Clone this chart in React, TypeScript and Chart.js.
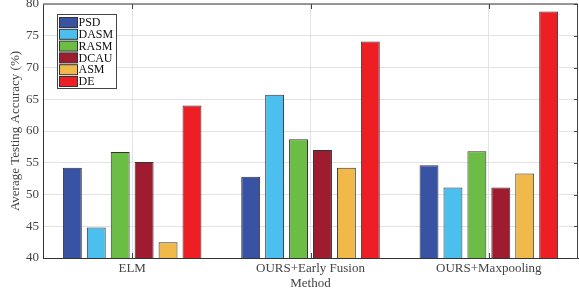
import React, { useEffect, useRef } from "react";
import { Chart, registerables } from "chart.js";

Chart.register(...registerables);

const categories = ["ELM", "OURS+Early Fusion", "OURS+Maxpooling"];
const seriesNames = ["PSD", "DASM", "RASM", "DCAU", "ASM", "DE"];
const psd = [54.2, 52.8, 54.6];
const dasm = [44.8, 65.7, 51.1];
const rasm = [56.7, 58.7, 56.8];
const dcau = [55.1, 57.0, 51.1];
const asm = [42.5, 54.2, 53.3];
const de = [64.0, 74.1, 78.8];
const seriesColors = ["#3953a4", "#4bc0ee", "#6bbd45", "#9f1c30", "#f0b94a", "#ed1f24"];
const yTicks = [40, 45, 50, 55, 60, 65, 70, 75, 80];

const FONT = "'Liberation Serif', 'Times New Roman', serif";

const boxPlugin = {
  id: "boxPlugin",
  afterDraw(chart: any) {
    const { ctx, chartArea } = chart;
    const { left, right, top, bottom } = chartArea;
    ctx.save();
    ctx.strokeStyle = "#777";
    ctx.lineWidth = 1.5;
    ctx.beginPath();
    ctx.moveTo(left, top);
    ctx.lineTo(right, top);
    ctx.stroke();
    ctx.lineWidth = 1;
    ctx.strokeStyle = "#444";
    ctx.beginPath();
    ctx.moveTo(right - 0.5, top);
    ctx.lineTo(right - 0.5, bottom);
    ctx.stroke();
    const ys = chart.scales.y;
    yTicks.forEach((v) => {
      const py = Math.round(ys.getPixelForValue(v)) + 0.5;
      ctx.beginPath();
      ctx.moveTo(right, py);
      ctx.lineTo(right - 4, py);
      ctx.stroke();
    });
    const xs = chart.scales.x;
    categories.forEach((_, i) => {
      const px = Math.round(xs.getPixelForValue(i)) + 0.5;
      ctx.beginPath();
      ctx.moveTo(px, top);
      ctx.lineTo(px, top + 5);
      ctx.stroke();
      ctx.beginPath();
      ctx.moveTo(px, bottom);
      ctx.lineTo(px, bottom - 5);
      ctx.stroke();
    });
    // legend
    const lx = 57.5, ly = 14.5, lw = 59, lh = 74;
    ctx.fillStyle = "#fff";
    ctx.fillRect(lx, ly, lw, lh);
    ctx.strokeStyle = "#444";
    ctx.lineWidth = 1;
    ctx.strokeRect(lx, ly, lw, lh);
    ctx.font = `12px ${FONT}`;
    ctx.textBaseline = "middle";
    ctx.textAlign = "left";
    seriesNames.forEach((name, i) => {
      const rowY = ly + 3 + i * 11.8;
      ctx.fillStyle = seriesColors[i];
      ctx.fillRect(lx + 2, rowY, 18, 10);
      ctx.strokeStyle = "#333";
      ctx.strokeRect(lx + 2, rowY, 18, 10);
      ctx.fillStyle = "#111";
      ctx.fillText(name, lx + 21, rowY + 5.5);
    });
    ctx.restore();
  },
};

export default function App() {
  const ref = useRef<HTMLCanvasElement | null>(null);
  useEffect(() => {
    document.body.style.margin = "0";
    const values = [psd, dasm, rasm, dcau, asm, de];
    const chart = new Chart(ref.current as HTMLCanvasElement, {
      type: "bar",
      data: {
        labels: categories,
        datasets: seriesNames.map((n, i) => ({
          label: n,
          data: values[i],
          backgroundColor: seriesColors[i],
          borderColor: "#333",
          borderWidth: 1,
          categoryPercentage: 0.805,
          barPercentage: 0.79,
        })),
      },
      options: {
        animation: false,
        responsive: false,
        maintainAspectRatio: false,
        layout: { padding: { top: 4, right: 1, left: 0, bottom: 0 } },
        plugins: { legend: { display: false }, tooltip: { enabled: false } },
        scales: {
          x: {
            afterFit: (s: any) => { s.height = 34; s.paddingLeft = 0; s.paddingRight = 0; },
            grid: { offset: false, color: "#e3e3e3", drawTicks: false },
            border: { color: "#333", width: 1 },
            ticks: { font: { family: FONT, size: 13 }, color: "#444", padding: 3 },
            title: {
              display: true,
              text: "Method",
              font: { family: FONT, size: 13 },
              color: "#444",
              padding: { top: 0, bottom: 1 },
            },
          },
          y: {
            min: 40,
            max: 80,
            afterFit: (s: any) => { s.width = 43; s.paddingTop = 0; s.paddingBottom = 0; },
            afterBuildTicks: (s: any) => { s.ticks = yTicks.map((v) => ({ value: v })); },
            grid: { color: "#e3e3e3", drawTicks: false },
            border: { color: "#333", width: 1 },
            ticks: { font: { family: FONT, size: 13 }, color: "#444", padding: 4 },
            title: {
              display: true,
              text: "Average Testing Accuracy (%)",
              font: { family: FONT, size: 13 },
              color: "#444",
              padding: { top: 8, bottom: 0 },
            },
          },
        },
      },
      plugins: [boxPlugin],
    });
    return () => chart.destroy();
  }, []);
  return (
    <div style={{ width: 579, height: 292 }}>
      <canvas ref={ref} width={579} height={292} style={{ display: "block" }} />
    </div>
  );
}
